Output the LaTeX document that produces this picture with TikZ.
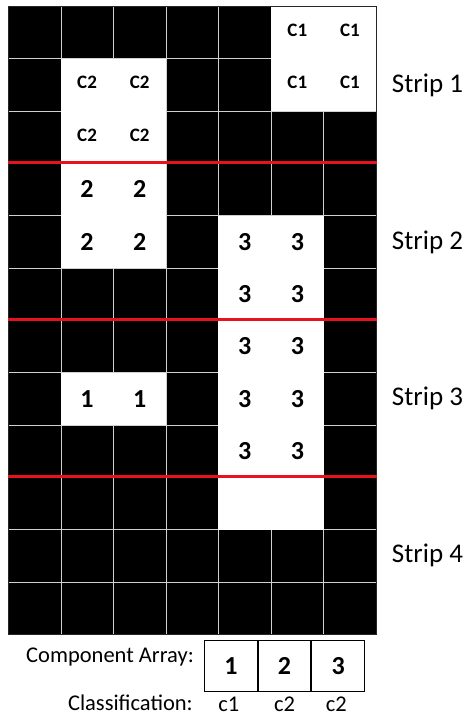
\documentclass[tikz,border=0pt]{standalone}
\usepackage{fontspec}
\setmainfont{Carlito}
\usepackage{xcolor}
\usetikzlibrary{positioning, calc}
\definecolor{cutred}{RGB}{232,18,28}

\begin{document}
\begin{tikzpicture}[
    x=1pt, y=-1pt,
    cell/.style={minimum width=52.57pt, minimum height=52.33pt, inner sep=0pt,
                 anchor=north west},
    dark/.style={cell, fill=black, draw=black!18, line width=0.8pt},
    lit/.style={cell, fill=white, font=\fontsize{26}{26}\selectfont\bfseries},
    litc/.style={lit, font=\fontsize{19}{19}\selectfont\bfseries},
    cut/.style={cutred, line width=3pt},
    strip/.style={right=15pt of #1, inner sep=0pt, font=\fontsize{27}{27}\selectfont},
    arr/.style={draw, line width=1pt, minimum width=52.7pt, minimum height=51pt,
                inner sep=0pt, font=\fontsize{26}{26}\selectfont\bfseries},
    capt/.style={inner sep=0pt, font=\fontsize{22.5}{22.5}\selectfont}
  ]
    \useasboundingbox (0,0) rectangle (468,717);
    % black grid
    \foreach \r in {0,...,11}
      \foreach \c in {0,...,6}
        \node[dark] (k\c-\r) at ({8+52.57*\c},{6+52.33*\r}) {};
    % white components
    \foreach \c/\r/\t in {5/0/C1, 6/0/C1, 1/1/C2, 2/1/C2, 5/1/C1, 6/1/C1,
                          1/2/C2, 2/2/C2}
      \node[litc] (w\c-\r) at ({8+52.57*\c},{6+52.33*\r}) {\raisebox{4pt}{\t}};
    \foreach \c/\r/\t in {1/3/2, 2/3/2, 1/4/2, 2/4/2, 4/4/3, 5/4/3, 4/5/3, 5/5/3,
                          4/6/3, 5/6/3, 1/7/1, 2/7/1, 4/7/3, 5/7/3, 4/8/3, 5/8/3,
                          4/9/, 5/9/}
      \node[lit] (w\c-\r) at ({8+52.57*\c},{6+52.33*\r}) {\t};
    \draw[black!85, line width=0.8pt] (k0-0.north west) rectangle (k6-11.south east);
    % strip borders
    \draw[cut] (k0-3.north west) -- (k6-3.north east);
    \draw[cut] (k0-6.north west) -- (k6-6.north east);
    \draw[cut] (k0-9.north west) -- (k6-9.north east);
    \node[strip=k6-1.east]  (s1) {Strip 1};
    \node[strip=k6-4.east]  (s2) {Strip 2};
    \node[strip=k6-7.east]  (s3) {Strip 3};
    \node[strip=k6-10.east] (s4) {Strip 4};
    % component array
    \node[arr, anchor=north west] (a1) at (204,640) {1};
    \node[arr, right=0pt of a1] (a2) {2};
    \node[arr, right=0pt of a2] (a3) {3};
    \node[capt, anchor=base east] (ca) at (194,662) {Component Array:};
    \node[capt, anchor=base east] (cl) at (193,710) {Classification:};
    \node[capt, anchor=base] (cls1) at ($(a1.south)+(-2,19)$) {c1};
    \node[capt, anchor=base] (cls2) at ($(a2.south)+(0,19)$) {c2};
    \node[capt, anchor=base] (cls3) at ($(a3.south)+(-2,19)$) {c2};
  \end{tikzpicture}
\end{document}
